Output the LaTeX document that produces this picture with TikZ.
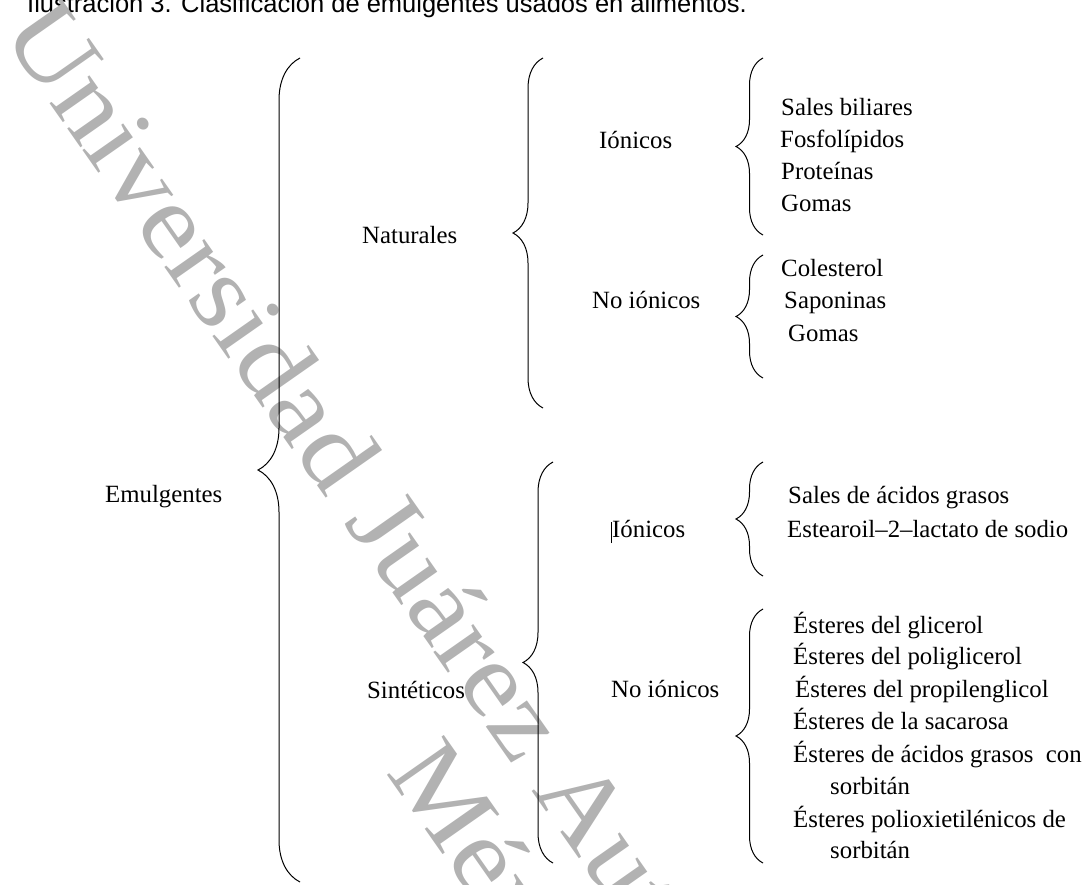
\documentclass[tikz,border=0pt]{standalone}
\usepackage{fontspec}
\setmainfont{Liberation Serif}
\newfontfamily\captionfont{Liberation Sans}
\newfontfamily\marcafont{Liberation Serif}[FakeStretch=1.1]
\usetikzlibrary{decorations.pathreplacing}

\tikzset{
  txt/.style={anchor=base west, inner sep=0pt, font=\fontsize{24.8}{30}\selectfont},
  llave/.style={decorate, line width=1pt,
    decoration={brace, amplitude=#1}},
  marca/.style={text=black!30, inner sep=0pt, anchor=base west, rotate=-55,
    font=\marcafont\fontsize{106}{106}\selectfont}
}

\begin{document}
\begin{tikzpicture}[x=1pt,y=-1pt]
  \useasboundingbox (0,0) rectangle (1091,884);
  \clip (0,0) rectangle (1091,884);
  % title line, cut at the top
  \node[anchor=base west, inner sep=0pt, font=\captionfont\fontsize{25.5}{30}\selectfont]
    (titulo) at (27,12) {Ilustración 3. Clasificación de emulgentes usados en alimentos.};
  % watermark
  \node[marca] (marca1) at (0,32) {Universidad Juárez Autónoma de Tabasco};
  \node[marca] (marca2) at (385,772) {México};

  % first level
  \node[txt] (emul) at (105,502) {Emulgentes};
  \coordinate (b1t) at (300,58);
  \coordinate (b1b) at (300,882);
  \draw[llave=42] (b1b) -- (b1t);

  \node[txt] (nat) at (362,243) {Naturales};
  \node[txt] (sint) at (367,698) {Sintéticos};

  % naturales
  \coordinate (b2t) at (543,58);
  \coordinate (b2b) at (543,408);
  \draw[llave=30] (b2b) -- (b2t);
  \node[txt] (natIon) at (599,148) {Iónicos};
  \node[txt] (natNoIon) at (592,308) {No iónicos};

  \coordinate (b4t) at (763,58);
  \coordinate (b4b) at (763,235);
  \draw[llave=27] (b4b) -- (b4t);
  \node[txt] (sales) at (781,115) {Sales biliares};
  \node[txt] (fosfo) at (780,147) {Fosfolípidos};
  \node[txt] (prot) at (781,179) {Proteínas};
  \node[txt] (gomasA) at (781,211) {Gomas};

  \coordinate (b5t) at (763,255);
  \coordinate (b5b) at (763,378);
  \draw[llave=27] (b5b) -- (b5t);
  \node[txt] (coles) at (781,276) {Colesterol};
  \node[txt] (sapo) at (784,308) {Saponinas};
  \node[txt] (gomasB) at (788,341) {Gomas};

  % sinteticos
  \coordinate (b3t) at (553,462);
  \coordinate (b3b) at (553,863);
  \draw[llave=30] (b3b) -- (b3t);
  \node[txt] (sinIon) at (612,537) {Iónicos};
  \draw[line width=0.9pt] ([xshift=-1pt,yshift=-6pt]sinIon.base west) -- ([xshift=-1pt,yshift=15pt]sinIon.base west);
  \node[txt] (sinNoIon) at (611,697) {No iónicos};

  \coordinate (b6t) at (763,462);
  \coordinate (b6b) at (763,576);
  \draw[llave=27] (b6b) -- (b6t);
  \node[txt] (acidos) at (788,503) {Sales de ácidos grasos};
  \node[txt] (estea) at (787,537) {Estearoil–2–lactato de sodio};

  \coordinate (b7t) at (763,609);
  \coordinate (b7b) at (763,863);
  \draw[llave=27] (b7b) -- (b7t);
  \node[txt] (est1) at (793,633) {Ésteres del glicerol};
  \node[txt] (est2) at (793,664) {Ésteres del poliglicerol};
  \node[txt] (est3) at (795,697) {Ésteres del propilenglicol};
  \node[txt] (est4) at (793,729) {Ésteres de la sacarosa};
  \node[txt] (est5) at (793,762) {Ésteres de ácidos grasos\ \ con};
  \node[txt] (est5b) at (830,794) {sorbitán};
  \node[txt] (est6) at (793,827) {Ésteres polioxietilénicos de};
  \node[txt] (est6b) at (830,858) {sorbitán};
\end{tikzpicture}
\end{document}
